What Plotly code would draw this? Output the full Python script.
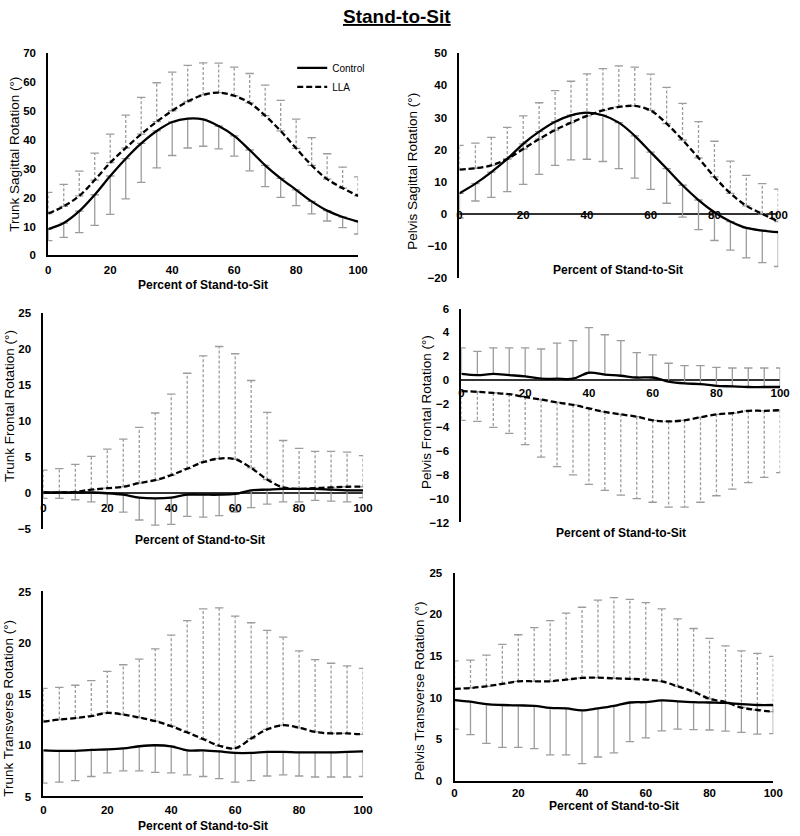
import plotly.graph_objects as go

W, H = 800, 836
pct = [0, 5, 10, 15, 20, 25, 30, 35, 40, 45, 50, 55, 60, 65, 70, 75, 80, 85, 90, 95, 100]
x_ticks = [0, 20, 40, 60, 80, 100]

# ---- Trunk Sagittal ----
trunk_sag_ctrl = [9.1, 11.2, 15.3, 21.0, 27.5, 33.5, 38.8, 43.1, 46.2, 47.4, 47.1, 44.8, 41.4, 36.5, 31.2, 26.7, 22.7, 18.7, 15.5, 13.3, 11.7]
trunk_sag_ctrl_sd = [4.0, 5.0, 7.4, 10.6, 13.3, 13.9, 13.5, 12.8, 11.6, 10.2, 9.3, 7.9, 7.0, 7.2, 7.4, 6.6, 5.5, 4.3, 3.6, 3.7, 4.3]
trunk_sag_lla = [14.5, 17.0, 20.6, 26.1, 32.1, 37.2, 42.0, 46.3, 50.1, 53.3, 55.6, 56.4, 55.3, 52.8, 48.4, 43.1, 37.1, 31.2, 26.4, 23.3, 20.6]
trunk_sag_lla_sd = [7.3, 7.6, 8.6, 9.3, 9.9, 11.4, 12.7, 13.5, 13.4, 12.5, 11.1, 10.2, 9.9, 10.2, 10.6, 10.6, 10.1, 9.6, 8.8, 7.3, 6.6]

# ---- Pelvis Sagittal ----
pelvis_sag_ctrl = [6.4, 9.4, 13.0, 17.1, 21.8, 25.6, 28.7, 30.7, 31.5, 30.7, 28.4, 24.3, 19.2, 14.1, 8.9, 4.3, 0.5, -2.4, -4.4, -5.2, -5.7]
pelvis_sag_ctrl_sd = [7.7, 5.4, 7.9, 10.2, 12.6, 13.3, 13.6, 13.9, 14.5, 14.4, 14.3, 13.2, 11.6, 10.8, 9.9, 9.2, 8.8, 8.9, 9.3, 10.0, 10.7]
pelvis_sag_lla = [13.8, 14.2, 15.1, 17.1, 20.2, 23.3, 26.1, 28.4, 30.5, 32.2, 33.3, 33.6, 32.2, 28.1, 23.0, 17.4, 11.5, 6.4, 2.5, 0.0, -2.4]
pelvis_sag_lla_sd = [7.5, 7.8, 8.7, 9.8, 10.3, 11.3, 12.3, 12.9, 13.1, 13.0, 12.8, 12.1, 11.3, 11.3, 11.4, 11.3, 11.1, 10.0, 9.5, 9.4, 10.1]

# ---- Trunk Frontal ----
trunk_fro_ctrl = [0.1, 0.1, 0.1, 0.1, 0.0, -0.2, -0.6, -0.7, -0.6, -0.2, -0.2, -0.2, -0.1, 0.4, 0.5, 0.6, 0.6, 0.6, 0.5, 0.4, 0.4]
trunk_fro_ctrl_sd = [0.8, 0.8, 1.0, 1.3, 1.6, 2.4, 3.1, 3.7, 3.7, 3.0, 3.1, 2.9, 2.5, 2.4, 2.0, 1.8, 1.8, 1.6, 1.6, 1.6, 1.0]
trunk_fro_lla = [0.1, 0.1, 0.2, 0.5, 0.7, 0.9, 1.4, 1.8, 2.5, 3.4, 4.3, 4.8, 4.7, 3.5, 1.9, 0.8, 0.6, 0.7, 0.8, 0.9, 0.9]
trunk_fro_lla_sd = [3.1, 3.3, 3.8, 4.6, 5.4, 6.6, 7.7, 9.3, 11.2, 13.2, 14.7, 15.5, 14.6, 12.1, 9.3, 6.5, 5.6, 5.1, 5.0, 4.8, 4.3]

# ---- Pelvis Frontal ----
pelvis_fro_ctrl = [0.5, 0.4, 0.5, 0.4, 0.3, 0.1, 0.1, 0.1, 0.6, 0.45, 0.35, 0.2, 0.2, -0.15, -0.3, -0.35, -0.5, -0.55, -0.6, -0.6, -0.6]
pelvis_fro_ctrl_sd = [2.2, 2.0, 2.2, 2.3, 2.4, 2.5, 3.0, 3.2, 3.8, 3.35, 2.95, 2.1, 1.9, 1.55, 1.5, 1.55, 1.55, 1.55, 1.6, 1.6, 1.6]
pelvis_fro_lla = [-0.95, -1.0, -1.1, -1.2, -1.45, -1.65, -1.9, -2.1, -2.4, -2.7, -2.9, -3.1, -3.4, -3.5, -3.4, -3.15, -2.9, -2.8, -2.6, -2.6, -2.55]
pelvis_fro_lla_sd = [2.45, 2.5, 2.9, 3.3, 4.0, 4.85, 5.4, 5.9, 6.4, 6.6, 6.8, 6.9, 6.9, 7.2, 7.3, 7.15, 6.85, 6.4, 6.05, 5.6, 5.25]

# ---- Trunk Transverse ----
trunk_tra_ctrl = [9.5, 9.45, 9.45, 9.55, 9.6, 9.7, 9.9, 10.0, 9.9, 9.5, 9.5, 9.4, 9.25, 9.25, 9.35, 9.35, 9.3, 9.3, 9.3, 9.35, 9.4]
trunk_tra_ctrl_sd = [3.2, 3.05, 2.9, 2.6, 2.3, 2.2, 2.4, 2.65, 2.6, 2.4, 2.55, 2.65, 2.85, 2.7, 2.35, 2.25, 2.3, 2.4, 2.4, 2.45, 2.45]
trunk_tra_lla = [12.3, 12.5, 12.65, 12.85, 13.15, 13.0, 12.7, 12.35, 11.85, 11.25, 10.6, 9.95, 9.7, 10.65, 11.55, 11.95, 11.7, 11.3, 11.15, 11.15, 11.05]
trunk_tra_lla_sd = [3.25, 3.15, 3.2, 3.45, 4.05, 4.85, 5.7, 7.05, 8.9, 10.9, 12.7, 13.45, 12.9, 11.3, 9.65, 8.6, 7.5, 7.05, 6.85, 6.6, 6.45]

# ---- Pelvis Transverse ----
pelvis_tra_ctrl = [9.7, 9.5, 9.2, 9.1, 9.05, 9.0, 8.75, 8.7, 8.45, 8.7, 9.0, 9.4, 9.45, 9.65, 9.55, 9.45, 9.4, 9.35, 9.2, 9.1, 9.1]
pelvis_tra_ctrl_sd = [3.5, 3.95, 4.7, 5.1, 5.05, 5.15, 5.65, 5.6, 6.4, 5.85, 5.65, 4.7, 4.3, 3.65, 3.35, 3.3, 3.3, 3.4, 3.4, 3.5, 3.45]
pelvis_tra_lla = [11.05, 11.15, 11.35, 11.65, 11.95, 11.95, 11.95, 12.15, 12.35, 12.4, 12.3, 12.25, 12.15, 11.95, 11.35, 10.7, 9.85, 9.45, 8.8, 8.5, 8.3]
pelvis_tra_lla_sd = [3.35, 3.35, 3.75, 4.75, 5.6, 6.45, 7.3, 8.0, 8.5, 9.3, 9.7, 9.55, 9.25, 8.7, 8.1, 7.6, 7.25, 6.75, 6.8, 6.8, 6.65]

FONT = "Liberation Sans, Arial, sans-serif"


def ppx(p):
    return p / W


def ppy(p):
    return 1 - p / H


# layout specs (pixel geometry); shift = offset of the (invisible) tick-label axis from the line / standoff
panels = [
    dict(ctrl=trunk_sag_ctrl, csd=trunk_sag_ctrl_sd, lla=trunk_sag_lla, lsd=trunk_sag_lla_sd,
         cdir=-1, ldir=1, xpx=(46, 361), ypx=(48, 253), yr=(0, 70), dt=10, zero=False, shift=3,
         ytitle="Trunk Sagittal Rotation (°)", yt=(12, 150), xt=(203, 283)),
    dict(ctrl=pelvis_sag_ctrl, csd=pelvis_sag_ctrl_sd, lla=pelvis_sag_lla, lsd=pelvis_sag_lla_sd,
         cdir=-1, ldir=1, xpx=(464, 788), ypx=(48, 276), yr=(-20, 50), dt=10, zero=True, shift=-7,
         ytitle="Pelvis Sagittal Rotation (°)", yt=(416, 168), xt=(625, 268)),
    dict(ctrl=trunk_fro_ctrl, csd=trunk_fro_ctrl_sd, lla=trunk_fro_lla, lsd=trunk_fro_lla_sd,
         cdir=-1, ldir=1, xpx=(41, 366), ypx=(311, 531), yr=(-5, 25), dt=5, zero=True, shift=6,
         ytitle="Trunk Frontal Rotation (°)", yt=(6, 406), xt=(200, 542)),
    dict(ctrl=pelvis_fro_ctrl, csd=pelvis_fro_ctrl_sd, lla=pelvis_fro_lla, lsd=pelvis_fro_lla_sd,
         cdir=1, ldir=-1, xpx=(466, 790), ypx=(307, 524), yr=(-12, 6), dt=2, zero=True, shift=5,
         ytitle="Pelvis Frontal Rotation (°)", yt=(430, 412), xt=(628, 535)),
    dict(ctrl=trunk_tra_ctrl, csd=trunk_tra_ctrl_sd, lla=trunk_tra_lla, lsd=trunk_tra_lla_sd,
         cdir=-1, ldir=1, xpx=(41, 366), ypx=(594, 802), yr=(5, 25), dt=5, zero=False, shift=2,
         ytitle="Trunk Transverse Rotation (°)", yt=(6, 712), xt=(203, 832)),
    dict(ctrl=pelvis_tra_ctrl, csd=pelvis_tra_ctrl_sd, lla=pelvis_tra_lla, lsd=pelvis_tra_lla_sd,
         cdir=-1, ldir=1, xpx=(459, 783), ypx=(575, 786), yr=(0, 25), dt=5, zero=False, shift=0,
         ytitle="Pelvis Transverse Rotation (°)", yt=(423, 695), xt=(621, 812)),
]

fig = go.Figure()
annotations = []
layout = {}
ERR = "#9c9c9c"


def err_segments(xs, mean, sd, d):
    ex, ey, cx, cy = [], [], [], []
    for x, m, s in zip(xs, mean, sd):
        end = m + d * s
        ex += [x, x, None]
        ey += [m, end, None]
        cx.append(x)
        cy.append(end)
    return ex, ey, cx, cy


for i, p in enumerate(panels, start=1):
    sfx = "" if i == 1 else str(i)
    xa, ya = "x" + sfx, "y" + sfx
    for mean, sd, d, dash in ((p["ctrl"], p["csd"], p["cdir"], "solid"),
                              (p["lla"], p["lsd"], p["ldir"], "3px,2px")):
        ex, ey, cx, cy = err_segments(pct, mean, sd, d)
        fig.add_trace(go.Scatter(x=ex, y=ey, mode="lines", xaxis=xa, yaxis=ya,
                                 line=dict(color=ERR, width=1.3, dash=dash),
                                 showlegend=False, hoverinfo="skip"))
        fig.add_trace(go.Scatter(x=cx + pct, y=cy + mean, mode="markers", xaxis=xa, yaxis=ya,
                                 marker=dict(symbol="line-ew", size=6,
                                             line=dict(color=ERR, width=1.3)),
                                 showlegend=False, hoverinfo="skip"))
    fig.add_trace(go.Scatter(x=pct, y=p["ctrl"], mode="lines", name="Control",
                             xaxis=xa, yaxis=ya, line=dict(color="black", width=2.3, shape="spline"),
                             showlegend=(i == 1)))
    fig.add_trace(go.Scatter(x=pct, y=p["lla"], mode="lines", name="LLA",
                             xaxis=xa, yaxis=ya,
                             line=dict(color="black", width=2.3, dash="6px,3px", shape="spline"),
                             showlegend=(i == 1)))

    y0, y1 = p["yr"]
    ydom = [ppy(p["ypx"][1]), ppy(p["ypx"][0])]
    xdom = [ppx(p["xpx"][0]), ppx(p["xpx"][1])]
    tickfont = dict(family=FONT, size=11.5, color="black", weight="bold")
    xaxis = dict(domain=xdom, range=[0, 100], tickvals=x_ticks, showgrid=False, zeroline=False,
                 ticks="", tickfont=tickfont)
    yaxis = dict(domain=ydom, range=[y0, y1], dtick=p["dt"], showgrid=False,
                 showline=True, linecolor="black", linewidth=2, ticks="", anchor=xa,
                 ticklabelstandoff=8, tickfont=tickfont)
    if p["zero"]:
        zero_px = p["ypx"][1] - (0 - y0) / (y1 - y0) * (p["ypx"][1] - p["ypx"][0])
        xaxis.update(anchor="free", position=ppy(zero_px + p["shift"]), showline=False,
                     ticklabelstandoff=0)
        yaxis.update(zeroline=True, zerolinecolor="#333333", zerolinewidth=2)
    else:
        xaxis.update(anchor=ya, showline=True, linecolor="black", linewidth=2,
                     ticklabelstandoff=p["shift"])
        yaxis.update(zeroline=False)
    layout["xaxis" + sfx] = xaxis
    layout["yaxis" + sfx] = yaxis

    annotations.append(dict(text=p["ytitle"], x=ppx(p["yt"][0]), y=ppy(p["yt"][1]),
                            xref="paper", yref="paper", showarrow=False, textangle=-90,
                            xanchor="center", yanchor="middle",
                            font=dict(family=FONT, size=13.5, color="black")))
    annotations.append(dict(text="<b>Percent of Stand-to-Sit</b>", x=ppx(p["xt"][0]), y=ppy(p["xt"][1]),
                            xref="paper", yref="paper", showarrow=False,
                            xanchor="center", yanchor="middle",
                            font=dict(family=FONT, size=12, color="black")))

annotations.append(dict(text="<b><u>Stand-to-Sit</u></b>", x=0.5, y=ppy(11), xref="paper", yref="paper",
                        showarrow=False, xanchor="center", yanchor="middle",
                        font=dict(family=FONT, size=19, color="black")))

fig.update_layout(
    width=W, height=H, margin=dict(l=0, r=0, t=0, b=0),
    paper_bgcolor="white", plot_bgcolor="white",
    annotations=annotations,
    legend=dict(x=ppx(294), y=ppy(48), xanchor="left", yanchor="top",
                font=dict(family=FONT, size=10, color="black"),
                bgcolor="rgba(0,0,0,0)", itemwidth=30, tracegroupgap=2),
    **layout,
)

fig.write_html("out.html", config={"displayModeBar": False},
               post_script="document.body.style.margin='0px';")
